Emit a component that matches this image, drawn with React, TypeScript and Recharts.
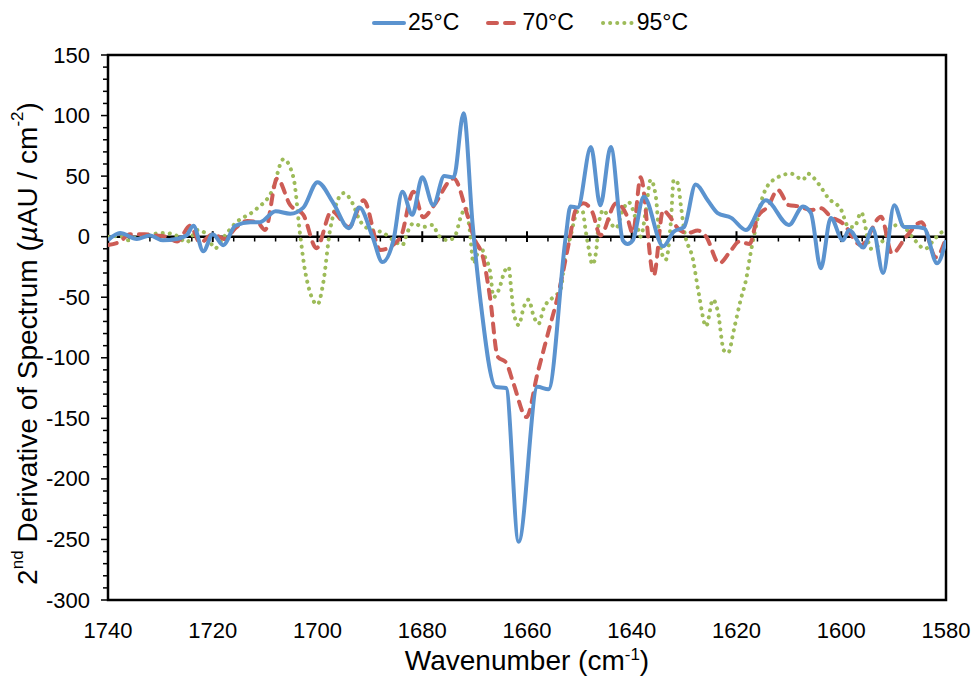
import { LineChart, Line, XAxis, YAxis, ReferenceLine, ReferenceArea } from 'recharts';

const FONT = '"Liberation Sans", Arial, Helvetica, sans-serif';

// 25°C
const wn25 = [1740, 1737.7, 1734.5, 1732, 1729.5, 1727, 1725, 1723.7, 1721.8, 1720, 1718, 1715.7, 1712.8, 1711, 1708, 1705.2, 1702.7, 1700, 1697, 1694, 1692, 1689.5, 1687.6, 1685.5, 1683.8, 1681.9, 1680, 1677.9, 1675.8, 1674, 1672.1, 1670.4, 1668.9, 1666, 1664, 1661.6, 1658, 1655.9, 1652.6, 1651.7, 1650.3, 1647.8, 1646, 1644, 1641.7, 1640.8, 1639.8, 1637.7, 1634, 1632, 1630, 1627.8, 1625.5, 1623.6, 1621, 1618.2, 1614.4, 1610, 1607.3, 1605.8, 1603.9, 1602, 1599.7, 1598.5, 1595.8, 1594, 1592, 1589.9, 1588, 1586.1, 1584.2, 1581.7, 1580];
const val25 = [-3, 3, -2, 1, -3, -2, 1, 9, -12, 2, -7, 9, 12, 12, 21, 19, 24, 45, 28, 7, 24, 0, -21, -3, 37, 18, 49, 26, 50, 49, 102, 11, -52, -124, -125, -252, -124, -126, 0, 25, 24, 74, 26, 74, -3, -6, -3, 33, -8, 4, 8, 43, 30, 19.5, 15.5, 5.5, 30, 9.7, 25, 19.5, -26, 15.5, -3, 5.5, -9, 7, -30, 26, 8, 8, 7, -22, -3];

// 70°C
const wn70 = [1740, 1737.7, 1735.8, 1733, 1731, 1729, 1726.8, 1724.3, 1722.4, 1720, 1717.6, 1715.7, 1713.4, 1711.5, 1710, 1707.7, 1705.2, 1702.7, 1700.2, 1697.3, 1694, 1691.2, 1688, 1684.2, 1681.7, 1679.8, 1677.9, 1674, 1671.4, 1670.2, 1668.3, 1667, 1665.6, 1664, 1662.6, 1660.1, 1658, 1656, 1654, 1652, 1650.7, 1649.2, 1647.5, 1646, 1643, 1641, 1639.8, 1638.3, 1635.8, 1634, 1633, 1631.2, 1629.3, 1627.4, 1625.8, 1623.3, 1621, 1619.5, 1617.5, 1616, 1614, 1612.1, 1610, 1608.1, 1605.8, 1603.9, 1602, 1599.7, 1596.2, 1592.4, 1590.3, 1587.6, 1584.7, 1581.9, 1580];
const val70 = [-7, -4, 2, 2, 1, 0, -4, 9, -5, 2, -2, 7, 13, 12, 5.5, 48, 26, 18, -9.5, 21, 8, 30, -11, -1, 37, 16, 25, 48, 18, 0, -19, -52, -99, -104, -121, -149, -113, -80, -47, -5, 22, 27.5, 20, 1, 27.5, 18, 3, 49, -32, 22, 18, 7, 3, 5, 0, -22, -11, -4, -6, 16, 25, 38.5, 26, 25, 22, 23.5, 16.5, 11, -7, 16.5, -14, 0, 12, -17, -1];

// 95°C
const wn95 = [1740, 1737.7, 1736.3, 1734.8, 1733, 1729, 1727, 1725, 1722.8, 1721.5, 1719.5, 1718, 1715.7, 1711.9, 1708.6, 1706.5, 1704.6, 1703.3, 1702.3, 1700, 1698.9, 1697.6, 1695, 1693.3, 1692, 1690.5, 1687.4, 1685.5, 1683.8, 1682.8, 1681.7, 1679.8, 1678, 1676.9, 1675, 1673.7, 1672.7, 1671.7, 1671, 1670.2, 1668.9, 1668, 1667, 1666.4, 1665.4, 1664.2, 1663.5, 1663, 1662.6, 1661.6, 1660.6, 1659.7, 1658.7, 1657.8, 1656.8, 1655, 1653.6, 1652.8, 1651.7, 1650.3, 1649.4, 1648.8, 1648.2, 1647.5, 1646.8, 1646.3, 1645.4, 1644, 1643, 1641.7, 1640.6, 1639.2, 1638.3, 1637.3, 1636.4, 1635.4, 1634.8, 1634, 1633.5, 1632.5, 1632, 1631.2, 1630.6, 1630, 1628.3, 1627.2, 1625.8, 1624.5, 1623.6, 1622.4, 1621.6, 1620.5, 1619.2, 1618.2, 1617.2, 1616.3, 1615, 1612.9, 1609.6, 1607.3, 1606.4, 1604.4, 1602.5, 1600, 1598.6, 1597.5, 1596.2, 1594.3, 1592, 1590.5, 1588.6, 1586.5, 1584, 1582, 1580.5, 1580];
const val95 = [0, 0.5, -3, -1, 1, 3, 1, -4.5, 5.5, 3, -9.5, -1, 11, 22, 38.5, 64, 49, 1, -30, -56, -38, 5.5, 36, 27.5, 14, 7, 3, -3, -7, 4, 11, 8, 9.7, 1, -3, 1, 15.5, 23.5, 8, -22, -8, -17, -30, -50, -44, -28, -25, -44, -61, -73, -58, -52, -66, -72, -59, -50, -44, -19, 0, 21, 21, 5, -10, -23, -12, 11, 22, 11, 7, 22, 28.5, 14, 0, 22, 47, 33, 3, -17, -19, 14, 47, 44, 25, 5.5, -19, -47, -74, -52, -61, -94, -96, -77, -52, -36, -11, 8, 33, 47, 52, 47, 52, 44, 32, 22, 8, 8, 20, -10, -3, 8, 10, 0, -10, -1, 4, 4];

const xTicks = [1740, 1720, 1700, 1680, 1660, 1640, 1620, 1600, 1580];
const yTicks = Array.from({ length: 46 }, (_, i) => -300 + i * 10);
const zeroMinor = Array.from({ length: 41 }, (_, i) => 1740 - i * 4).filter((w) => w % 20 !== 0);
const zeroMajor = [1720, 1700, 1680, 1660, 1640, 1620, 1600];

const toPoints = (wn: number[], val: number[]) => wn.map((w, i) => ({ w, v: val[i] }));
const s25 = toPoints(wn25, val25);
const s70 = toPoints(wn70, val70);
const s95 = toPoints(wn95, val95);

const BLUE = '#5B93CF';
const RED = '#CD5C55';
const GREEN = '#9DBB59';

function YTick(props: any) {
  const { x, y, payload } = props;
  const v = payload.value;
  const major = v % 50 === 0;
  const ax = x + 18;
  return (
    <g>
      <line x1={ax - (major ? 7 : 5)} x2={ax} y1={y} y2={y} stroke="#000" strokeWidth={1.5} />
      {major && (
        <text x={x} y={y} textAnchor="end" dominantBaseline="central" fontSize={22} fill="#000" fontFamily={FONT}>
          {v}
        </text>
      )}
    </g>
  );
}

function XTitle(props: any) {
  const vb = props.viewBox || { x: 108, y: 600, width: 838 };
  const cx = vb.x + vb.width / 2;
  return (
    <text x={cx} y={vb.y + 70} textAnchor="middle" fontSize={28} fill="#000" fontFamily={FONT}>
      Wavenumber (cm<tspan dy={-10} fontSize={17}>-1</tspan><tspan dy={10}>)</tspan>
    </text>
  );
}

function YTitle(props: any) {
  const vb = props.viewBox || { x: 0, y: 55, width: 108, height: 545 };
  const cx = vb.x + 27;
  const cy = vb.y + vb.height / 2 + 16;
  return (
    <text x={cx} y={cy} transform={`rotate(-90 ${cx} ${cy})`} textAnchor="middle" dominantBaseline="central" fontSize={28} fill="#000" fontFamily={FONT}>
      2<tspan dy={-10} fontSize={17}>nd</tspan>
      <tspan dy={10}>{' Derivative of Spectrum ('}</tspan>
      <tspan fontStyle="italic">µ</tspan>
      <tspan>{'AU / cm'}</tspan>
      <tspan dy={-10} fontSize={17}>-2</tspan>
      <tspan dy={10}>)</tspan>
    </text>
  );
}

function LegendItem({ color, dash, label }: { color: string; dash?: string; label: string }) {
  return (
    <div style={{ display: 'flex', alignItems: 'center', marginRight: 26 }}>
      <svg width={36} height={12}>
        <line x1={3} x2={33} y1={6} y2={6} stroke={color} strokeWidth={4} strokeDasharray={dash} strokeLinecap="round" />
      </svg>
      <span style={{ fontSize: 23, marginLeft: 1 }}>{label}</span>
    </div>
  );
}

export default function App() {
  return (
    <div style={{ position: 'absolute', left: 0, top: 0, width: 974, height: 679, background: '#fff', fontFamily: FONT }}>
      <div style={{ position: 'absolute', left: 371, top: 9, display: 'flex' }}>
        <LegendItem color={BLUE} label="25°C" />
        <LegendItem color={RED} dash="9 8" label="70°C" />
        <LegendItem color={GREEN} dash="0.1 7" label="95°C" />
      </div>
      <LineChart width={974} height={679} margin={{ top: 55, right: 28, left: 0, bottom: 0 }}>
        <XAxis
          type="number"
          dataKey="w"
          domain={[1580, 1740]}
          reversed
          ticks={xTicks}
          interval={0}
          tickLine={false}
          axisLine={false}
          tickSize={0}
          tickMargin={22}
          height={79}
          allowDataOverflow
          tick={{ fill: '#000', fontSize: 22, fontFamily: FONT }}
          label={<XTitle />}
        />
        <YAxis
          type="number"
          domain={[-300, 150]}
          ticks={yTicks}
          interval={0}
          tickLine={false}
          axisLine={false}
          tickSize={0}
          tickMargin={18}
          width={108}
          allowDataOverflow
          tick={<YTick />}
          label={<YTitle />}
        />
        <ReferenceArea x1={1740} x2={1580} y1={-300} y2={150} fill="none" stroke="#000" strokeWidth={2.5} />
        <ReferenceLine y={0} stroke="#000" strokeWidth={2.5} />
        {zeroMinor.map((w) => (
          <ReferenceLine key={`m${w}`} segment={[{ x: w, y: 0 }, { x: w, y: -4 }]} stroke="#000" strokeWidth={1.5} />
        ))}
        {zeroMajor.map((w) => (
          <ReferenceLine key={`M${w}`} segment={[{ x: w, y: 4.5 }, { x: w, y: -4.5 }]} stroke="#000" strokeWidth={2} />
        ))}
        <Line data={s95} dataKey="v" type="monotone" stroke={GREEN} strokeWidth={4} strokeDasharray="0.1 7" strokeLinecap="round" dot={false} isAnimationActive={false} />
        <Line data={s70} dataKey="v" type="monotone" stroke={RED} strokeWidth={4} strokeDasharray="9 8" strokeLinecap="round" dot={false} isAnimationActive={false} />
        <Line data={s25} dataKey="v" type="monotone" stroke={BLUE} strokeWidth={4} dot={false} isAnimationActive={false} />
      </LineChart>
    </div>
  );
}
